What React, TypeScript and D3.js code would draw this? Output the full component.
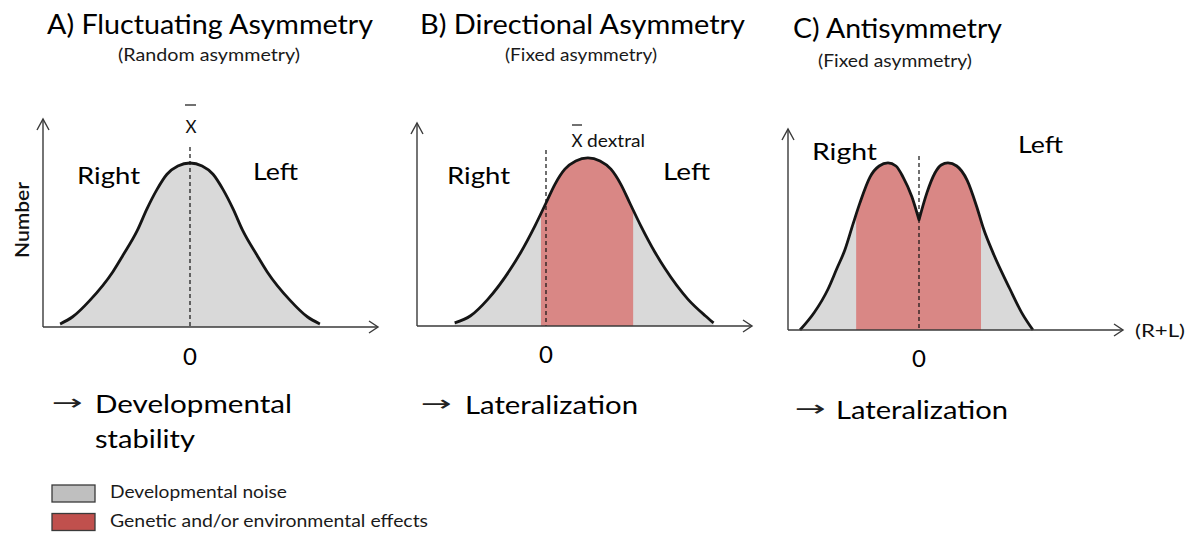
import React from 'react';
import * as d3 from 'd3';

// distribution heights (x in "units" relative to 0, y as share of axis height)
const aCurveX = [-3.1, -2.8, -2.39, -1.84, -1.6, -1.26, -1.03, -0.79, -0.55, -0.29, 0, 0.29, 0.55, 0.79, 1.03, 1.26, 1.6, 1.84, 2.39, 2.8, 3.1];
const aCurveY = [0.015, 0.05, 0.13, 0.27, 0.35, 0.47, 0.575, 0.67, 0.745, 0.785, 0.8, 0.785, 0.745, 0.67, 0.575, 0.47, 0.35, 0.27, 0.13, 0.05, 0.015];

const bCurveX = [-2.18, -1.8, -1.39, -0.84, -0.6, -0.26, 0, 0.21, 0.45, 0.71, 1.0, 1.29, 1.55, 1.79, 2.0, 2.26, 2.6, 2.84, 3.39, 3.8, 4.0];
const bCurveY = [0.015, 0.05, 0.13, 0.28, 0.36, 0.49, 0.6, 0.69, 0.765, 0.805, 0.82, 0.805, 0.765, 0.69, 0.6, 0.49, 0.36, 0.28, 0.13, 0.05, 0.015];

const cCurveX = [-2.84, -2.5, -2.17, -1.96, -1.77, -1.57, -1.41, -1.17, -0.95, -0.74, -0.55, -0.38, -0.17, 0, 0.19, 0.38, 0.53, 0.69, 0.9, 1.15, 1.38, 1.53, 1.77, 2.17, 2.45, 2.72];
const cCurveY = [0, 0.085, 0.2, 0.3, 0.39, 0.52, 0.62, 0.746, 0.8, 0.815, 0.8, 0.746, 0.65, 0.537, 0.67, 0.766, 0.805, 0.815, 0.8, 0.73, 0.6, 0.5, 0.375, 0.2, 0.085, 0];

// shaded "genetic / environmental" band [from, to]
const bRed = [-0.12, 2.08];
const cRed = [-1.5, 1.48];

const titles = ['A) Fluctuating Asymmetry', 'B) Directional Asymmetry', 'C) Antisymmetry'];
const subtitles = ['(Random asymmetry)', '(Fixed asymmetry)', '(Fixed asymmetry)'];
const outcomes = [['Developmental', 'stability'], ['Lateralization'], ['Lateralization']];
const legendLabels = ['Developmental noise', 'Genetic and/or environmental effects'];

const FONT = 'Lato, "Open Sans", sans-serif';
const UNIT = 41.9;
const GRAY = '#d9d9d9';
const RED = '#d98785';

const panels = [
  {
    xs: aCurveX, ys: aCurveY, red: null as number[] | null, cusp: false,
    x0: 43, x1: 378, zero: 190, base: 327, top: 119, dashTop: 147,
    title: [47, 34, 326], sub: [118, 61, 182],
    right: [77, 184, 63], left: [253, 180, 45], zeroY: 365,
    out: [52, 95, 413, 197, 100],
  },
  {
    xs: bCurveX, ys: bCurveY, red: bRed, cusp: false,
    x0: 417, x1: 752, zero: 546, base: 326, top: 123, dashTop: 150,
    title: [420, 34, 325], sub: [505, 61, 152],
    right: [447, 184, 63], left: [663, 180, 47], zeroY: 363,
    out: [421, 465, 414, 173, 0],
  },
  {
    xs: cCurveX, ys: cCurveY, red: cRed, cusp: true,
    x0: 788, x1: 1123, zero: 919, base: 330, top: 129, dashTop: 156,
    title: [793, 38, 209], sub: [818, 67, 154],
    right: [812, 160, 65], left: [1018, 153, 45], zeroY: 367,
    out: [795, 836, 419, 172, 0],
  },
];

const Panel = ({ p, i }: { p: (typeof panels)[number]; i: number }) => {
  const x = d3
    .scaleLinear()
    .domain([(p.x0 - p.zero) / UNIT, (p.x1 - p.zero) / UNIT])
    .range([p.x0, p.x1]);
  const y = d3.scaleLinear().domain([0, 1]).range([p.base, p.base - 205]);

  const pts: [number, number][] = p.xs.map((v, k) => [v, p.ys[k]]);
  // antisymmetry curve has a notch at 0: draw the two lobes as separate pieces
  const k0 = p.xs.indexOf(0);
  const pieces = p.cusp ? [pts.slice(0, k0 + 1), pts.slice(k0)] : [pts];

  const line = d3
    .line<[number, number]>()
    .x(d => x(d[0]))
    .y(d => y(d[1]))
    .curve(d3.curveMonotoneX);
  const curvePath = pieces
    .map((seg, s) => {
      const d = line(seg) || '';
      return s === 0 ? d : d.replace(/^M/, 'L');
    })
    .join('');
  const first = pts[0];
  const last = pts[pts.length - 1];
  const areaPath = `${curvePath}L${x(last[0])},${y(0)}L${x(first[0])},${y(0)}Z`;

  const clipId = `red-clip-${i}`;
  const textProps = { fontFamily: FONT, fill: '#000' };

  return (
    <g>
      <text x={p.title[0]} y={p.title[1]} fontSize={26} textLength={p.title[2]} lengthAdjust="spacingAndGlyphs" {...textProps}>
        {titles[i]}
      </text>
      <text x={p.sub[0]} y={p.sub[1]} fontSize={17.5} textLength={p.sub[2]} lengthAdjust="spacingAndGlyphs" fontFamily={FONT} fill="#1a1a1a">
        {subtitles[i]}
      </text>

      <path d={areaPath} fill={GRAY} />
      {p.red && (
        <>
          <clipPath id={clipId}>
            <rect x={x(p.red[0])} y={0} width={x(p.red[1]) - x(p.red[0])} height={p.base} />
          </clipPath>
          <path d={areaPath} fill={RED} clipPath={`url(#${clipId})`} />
        </>
      )}

      <line x1={x(0)} x2={x(0)} y1={p.dashTop} y2={p.base} stroke="#111" strokeWidth={1.2} strokeDasharray="4,3" />
      <path d={curvePath} fill="none" stroke="#151515" strokeWidth={2.8} strokeLinejoin="round" />

      {/* axes with open arrow heads */}
      <g stroke="#3a3a3a" strokeWidth={1.4} fill="none">
        <line x1={p.x0} x2={p.x0} y1={p.base} y2={p.top} />
        <line x1={p.x0} x2={p.x1} y1={p.base} y2={p.base} />
        <polyline points={`${p.x0 - 6},${p.top + 11} ${p.x0},${p.top} ${p.x0 + 6},${p.top + 11}`} />
        <polyline points={`${p.x1 - 9},${p.base - 6} ${p.x1},${p.base} ${p.x1 - 9},${p.base + 6}`} />
      </g>

      <text x={x(0)} y={p.zeroY} fontSize={24} textAnchor="middle" {...textProps}>0</text>
      <text x={p.right[0]} y={p.right[1]} fontSize={24} textLength={p.right[2]} lengthAdjust="spacingAndGlyphs" {...textProps}>Right</text>
      <text x={p.left[0]} y={p.left[1]} fontSize={24} textLength={p.left[2]} lengthAdjust="spacingAndGlyphs" {...textProps}>Left</text>

      <text x={p.out[0]} y={p.out[2] - 3} fontSize={22} fontFamily="DejaVu Sans" fill="#222" textLength={31} lengthAdjust="spacingAndGlyphs">→</text>
      {outcomes[i].map((w, k) => (
        <text key={w} x={p.out[1]} y={p.out[2] + k * 35} fontSize={25} textLength={k === 0 ? p.out[3] : p.out[4]} lengthAdjust="spacingAndGlyphs" {...textProps}>
          {w}
        </text>
      ))}
    </g>
  );
};

export default function App() {
  return (
    <svg width={1190} height={533} style={{ position: 'absolute', left: 0, top: 0, background: '#fff' }}>
      {panels.map((p, i) => (
        <Panel key={i} p={p} i={i} />
      ))}

      {/* y label */}
      <text transform="translate(29,220) rotate(-90)" fontSize={19} fontWeight={600} textAnchor="middle" textLength={76} lengthAdjust="spacingAndGlyphs" fontFamily={FONT} fill="#111">
        Number
      </text>

      {/* mean markers */}
      <line x1={185} x2={196} y1={105} y2={105} stroke="#111" strokeWidth={1.2} />
      <text x={191} y={133} fontSize={17} textAnchor="middle" fontFamily={FONT} fill="#111">X</text>
      <line x1={572} x2={582} y1={125} y2={125} stroke="#111" strokeWidth={1.2} />
      <text x={577} y={147} fontSize={17} textAnchor="middle" fontFamily={FONT} fill="#111">X</text>
      <text x={587} y={147} fontSize={17} textLength={58} lengthAdjust="spacingAndGlyphs" fontFamily={FONT} fill="#111">dextral</text>

      <text x={1135} y={337} fontSize={18} textLength={50} lengthAdjust="spacingAndGlyphs" fontFamily={FONT} fill="#111">(R+L)</text>

      {/* legend */}
      {legendLabels.map((t, k) => (
        <g key={t}>
          <rect x={52} y={485 + k * 28.5} width={43} height={17} fill={k === 0 ? '#bfbfbf' : '#c0504d'} stroke="#3a3a3a" strokeWidth={1.3} />
          <text x={110} y={498 + k * 29} fontSize={17} textLength={k === 0 ? 177 : 318} lengthAdjust="spacingAndGlyphs" fontFamily={FONT} fill="#1a1a1a">
            {t}
          </text>
        </g>
      ))}
    </svg>
  );
}
